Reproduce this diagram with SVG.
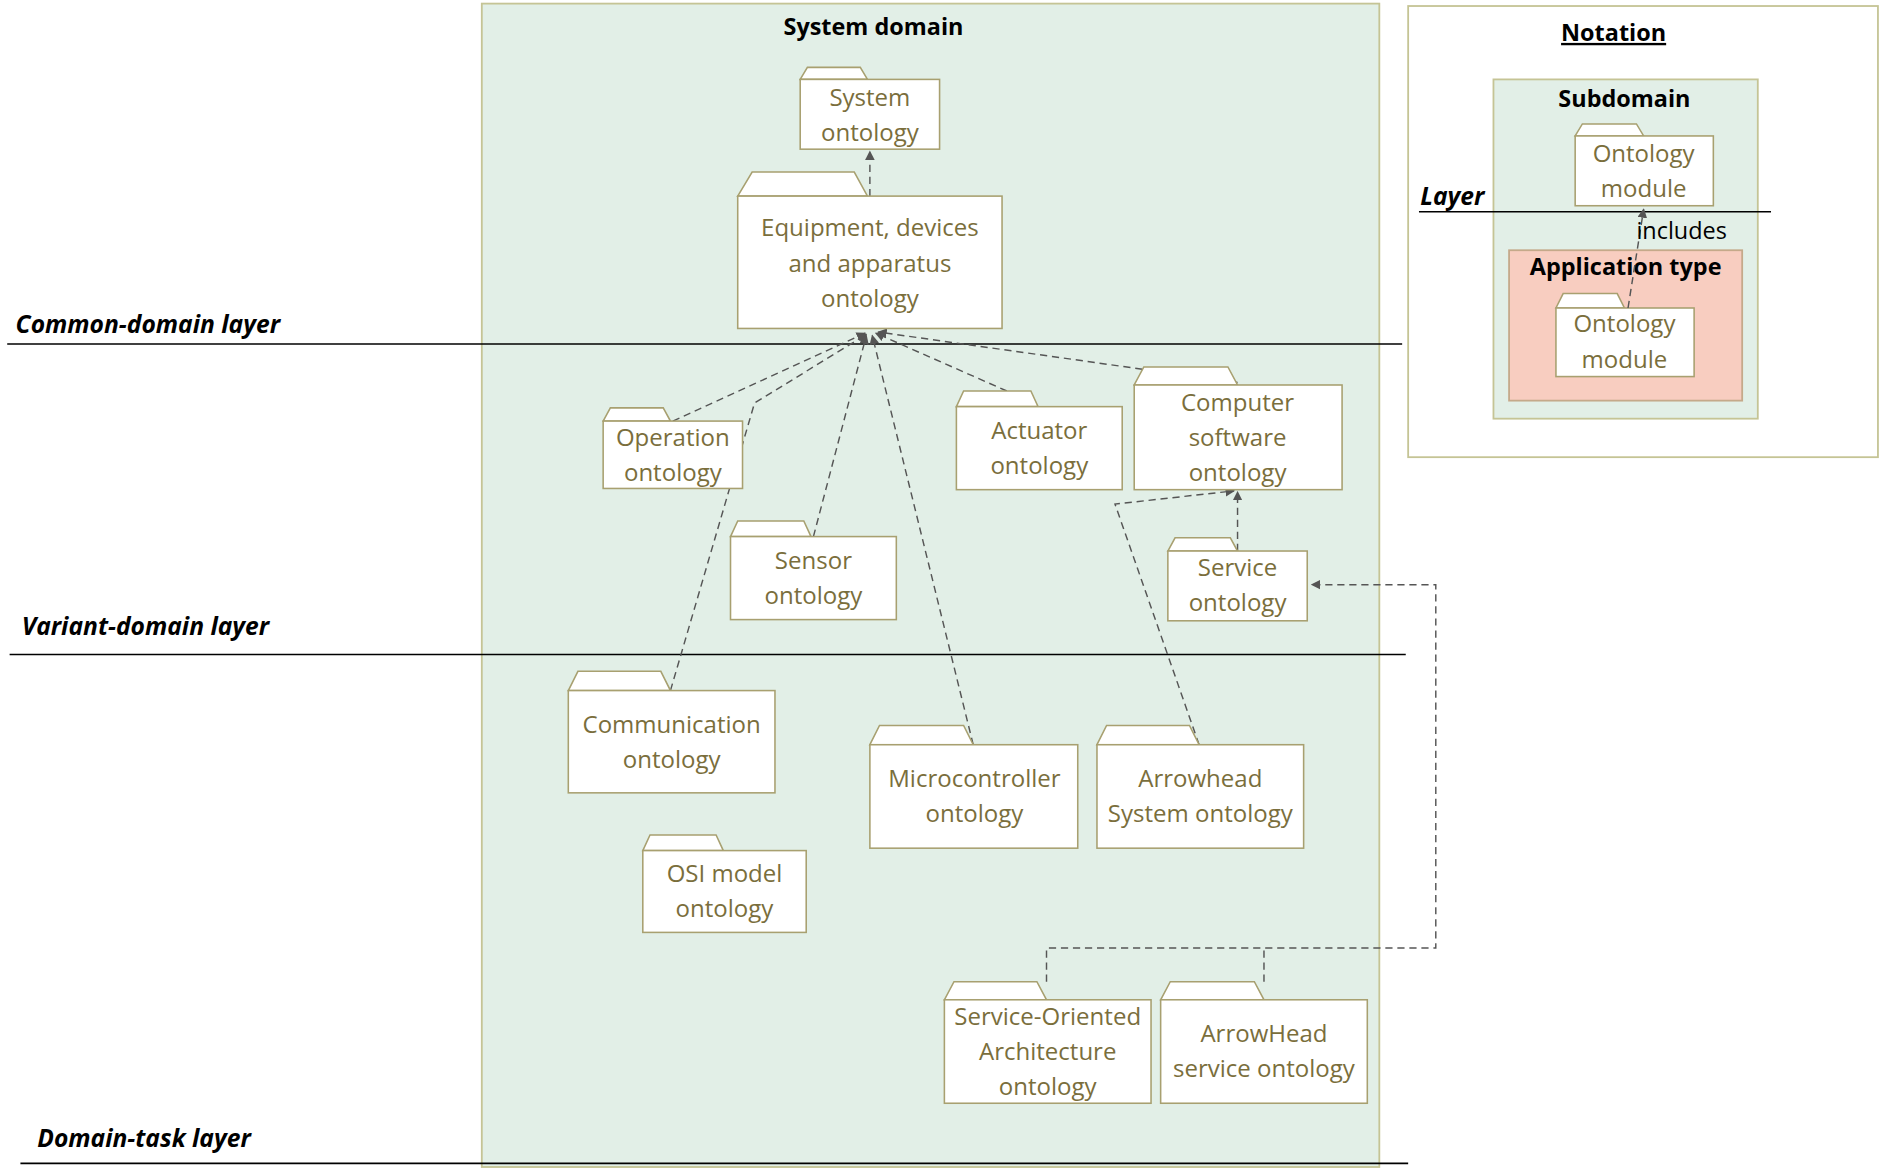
<svg xmlns="http://www.w3.org/2000/svg" width="1884" height="1173" viewBox="0 0 1884 1173">
<style>
.pk{fill:#fff;stroke:#a8a070;stroke-width:1.3}
.t{font-family:"Open Sans","Liberation Sans",sans-serif;font-size:20px;fill:#7a6e3c;text-anchor:middle}
.h{font-family:"Open Sans","Liberation Sans",sans-serif;font-size:19.5px;font-weight:bold;fill:#000;text-anchor:middle}
.ly{font-family:"Open Sans","Liberation Sans",sans-serif;font-size:20.5px;font-weight:bold;font-style:italic;fill:#000}
.ln{stroke:#000;stroke-width:1.3}
.c{fill:none;stroke:#555;stroke-width:1.2;stroke-dasharray:6,4}
</style>
<defs><marker id="a" markerWidth="8" markerHeight="8" refX="7" refY="4" orient="auto" markerUnits="userSpaceOnUse"><path d="M0,0L8,4L0,8z" fill="#555"/></marker></defs>
<rect width="1884" height="1173" fill="#fff"/>
<g transform="scale(1.2015,1.2031)">
<g id="panel"><rect x="401" y="3" width="747" height="967" fill="#e2efe7" stroke="#c5c495" stroke-width="1.5"/><text class="h" x="727" y="29">System domain</text></g>
<g id="notation"><rect x="1172" y="5" width="391" height="375" fill="#fff" stroke="#c5c495" stroke-width="1.5"/>
<text class="h" x="1343" y="34" text-decoration="underline">Notation</text>
<rect x="1243" y="66" width="220" height="282" fill="#e2efe7" stroke="#c5c495" stroke-width="1.5"/>
<text class="h" x="1352" y="89">Subdomain</text>
<rect x="1256" y="208" width="194" height="125" fill="#f8cdc0" stroke="#c5a98a" stroke-width="1.5"/>
<text class="h" x="1353" y="229">Application type</text>
<path class="pk" d="M1311,113l6,-10h45l6,10z"/><rect class="pk" x="1311" y="113" width="115" height="58"/>
<text class="t" x="1368" y="135">Ontology</text><text class="t" x="1368" y="164">module</text>
<path class="pk" d="M1295,256l6,-12h45l6,12z"/><rect class="pk" x="1295" y="256" width="115" height="57"/>
<text class="t" x="1352" y="276">Ontology</text><text class="t" x="1352" y="306">module</text>
<line class="ln" x1="1181" y1="176" x2="1474" y2="176"/>
<text class="ly" x="1182" y="170">Layer</text>
<path class="c" d="M1355,256L1368,174" marker-end="url(#a)"/>
<text x="1362" y="199" style="font-family:'Open Sans','Liberation Sans',sans-serif;font-size:19.5px;fill:#000">includes</text>
</g>
<g id="layers">
<line class="ln" x1="6" y1="286" x2="1167" y2="286"/><text class="ly" x="13" y="277">Common-domain layer</text>
<line class="ln" x1="8" y1="544" x2="1170" y2="544"/><text class="ly" x="18" y="528">Variant-domain layer</text>
<line class="ln" x1="17" y1="967" x2="1172" y2="967"/><text class="ly" x="31" y="953">Domain-task layer</text>
</g>
<g id="connectors">
<path class="c" d="M724,163V126" marker-end="url(#a)"/>
<path class="c" d="M560,350L720,277" marker-end="url(#a)"/>
<path class="c" d="M558,574L628,335L721,278" marker-end="url(#a)"/>
<path class="c" d="M677,446L721,279" marker-end="url(#a)"/>
<path class="c" d="M810,619L726,279" marker-end="url(#a)"/>
<path class="c" d="M838,325L729,277" marker-end="url(#a)"/>
<path class="c" d="M1030,318L731,276" marker-end="url(#a)"/>
<path class="c" d="M1030,458V409" marker-end="url(#a)"/>
<path class="c" d="M998,619L928,419L1027,408" marker-end="url(#a)"/>
<path class="c" d="M871,816V788H1195V486H1092" marker-end="url(#a)"/>
<path class="c" d="M1052,816V788"/>
</g>
<g id="n-system"><path class="pk" d="M666,66l6,-10h44l6,10z"/><rect class="pk" x="666" y="66" width="116" height="58"/><text class="t" x="724" y="88">System</text><text class="t" x="724" y="117">ontology</text></g>
<g id="n-equip"><path class="pk" d="M614,163l12,-20h85l11,20z"/><rect class="pk" x="614" y="163" width="220" height="110"/><text class="t" x="724" y="196">Equipment, devices</text><text class="t" x="724" y="226">and apparatus</text><text class="t" x="724" y="255">ontology</text></g>
<g id="n-op"><path class="pk" d="M502,350l6,-11h44l6,11z"/><rect class="pk" x="502" y="350" width="116" height="56"/><text class="t" x="560" y="371">Operation</text><text class="t" x="560" y="400">ontology</text></g>
<g id="n-sensor"><path class="pk" d="M608,446l6,-13h55l6,13z"/><rect class="pk" x="608" y="446" width="138" height="69"/><text class="t" x="677" y="473">Sensor</text><text class="t" x="677" y="502">ontology</text></g>
<g id="n-act"><path class="pk" d="M796,338l6,-13h56l6,13z"/><rect class="pk" x="796" y="338" width="138" height="69"/><text class="t" x="865" y="365">Actuator</text><text class="t" x="865" y="394">ontology</text></g>
<g id="n-cs"><path class="pk" d="M944,320l8,-15h70l8,15z"/><rect class="pk" x="944" y="320" width="173" height="87"/><text class="t" x="1030" y="342">Computer</text><text class="t" x="1030" y="371">software</text><text class="t" x="1030" y="400">ontology</text></g>
<g id="n-svc"><path class="pk" d="M972,458l6,-11h46l6,11z"/><rect class="pk" x="972" y="458" width="116" height="58"/><text class="t" x="1030" y="479">Service</text><text class="t" x="1030" y="508">ontology</text></g>
<g id="n-comm"><path class="pk" d="M473,574l8,-16h69l8,16z"/><rect class="pk" x="473" y="574" width="172" height="85"/><text class="t" x="559" y="609">Communication</text><text class="t" x="559" y="638">ontology</text></g>
<g id="n-mc"><path class="pk" d="M724,619l8,-16h70l8,16z"/><rect class="pk" x="724" y="619" width="173" height="86"/><text class="t" x="811" y="654">Microcontroller</text><text class="t" x="811" y="683">ontology</text></g>
<g id="n-ahs"><path class="pk" d="M913,619l8,-16h69l8,16z"/><rect class="pk" x="913" y="619" width="172" height="86"/><text class="t" x="999" y="654">Arrowhead</text><text class="t" x="999" y="683">System ontology</text></g>
<g id="n-osi"><path class="pk" d="M535,707l6,-13h55l6,13z"/><rect class="pk" x="535" y="707" width="136" height="68"/><text class="t" x="603" y="733">OSI model</text><text class="t" x="603" y="762">ontology</text></g>
<g id="n-soa"><path class="pk" d="M786,831l8,-15h69l8,15z"/><rect class="pk" x="786" y="831" width="172" height="86"/><text class="t" x="872" y="852">Service-Oriented</text><text class="t" x="872" y="881">Architecture</text><text class="t" x="872" y="910">ontology</text></g>
<g id="n-ahsvc"><path class="pk" d="M966,831l8,-15h70l8,15z"/><rect class="pk" x="966" y="831" width="172" height="86"/><text class="t" x="1052" y="866">ArrowHead</text><text class="t" x="1052" y="895">service ontology</text></g>
</g>
</svg>
